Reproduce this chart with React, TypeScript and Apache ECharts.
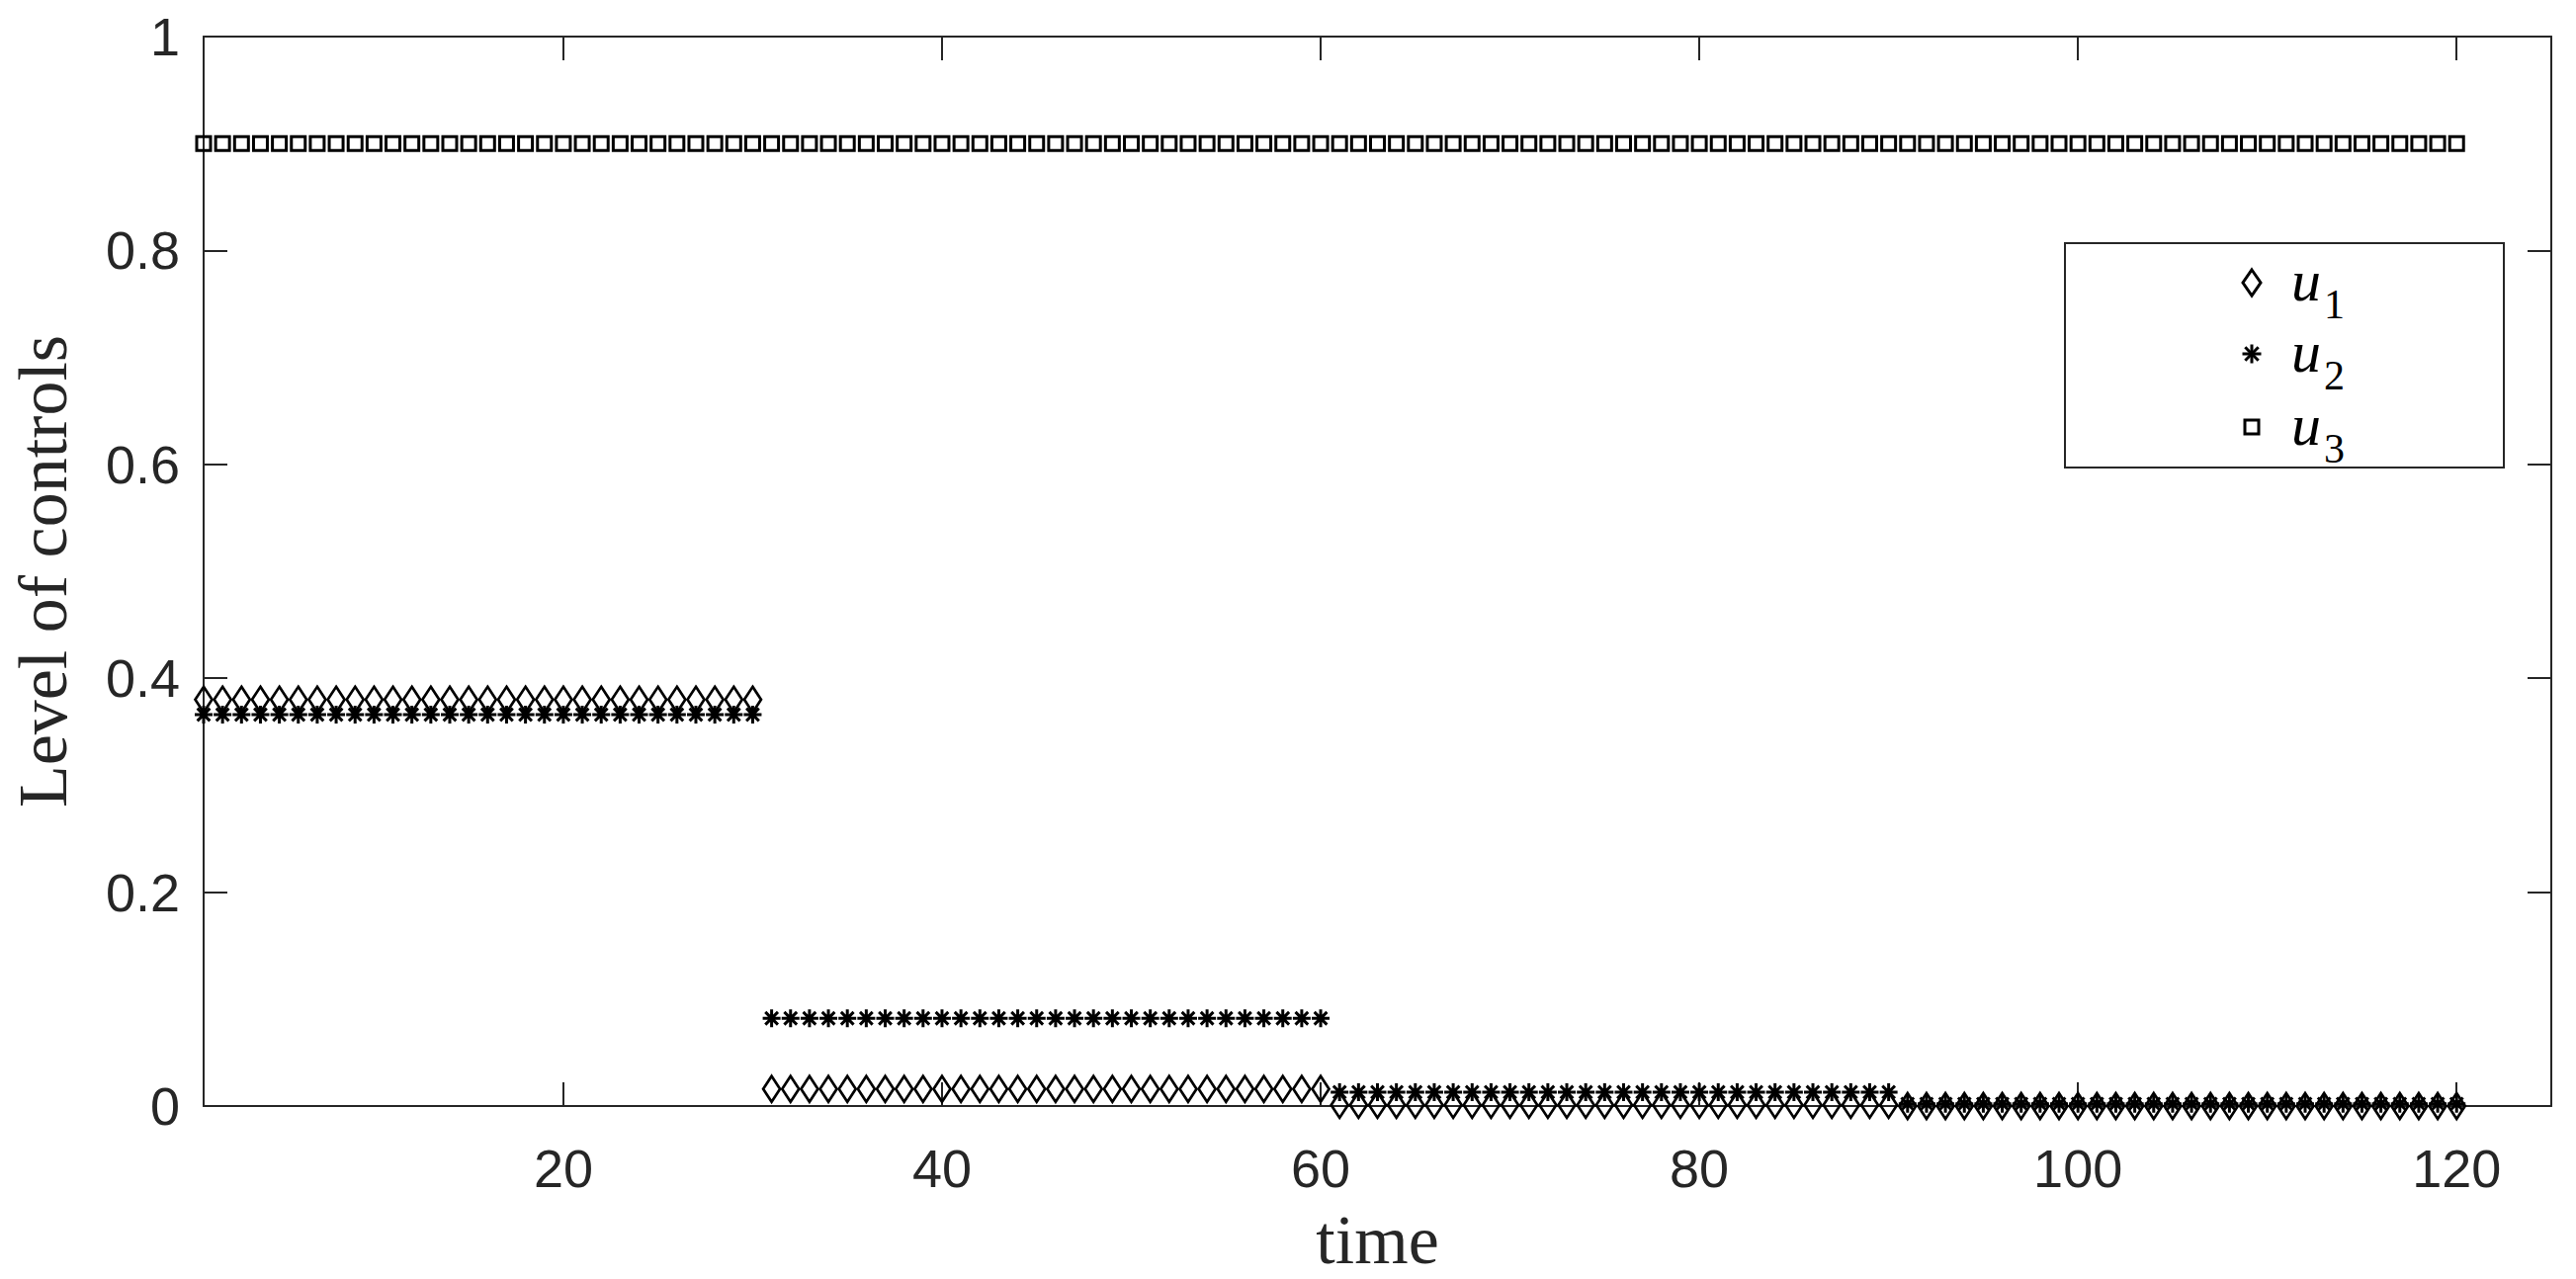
import React, { useEffect, useRef } from "react";
import * as echarts from "echarts";

// time steps (each marker sits on an integer time)
const time = [
  1, 2, 3, 4, 5, 6, 7, 8, 9, 10,
  11, 12, 13, 14, 15, 16, 17, 18, 19, 20,
  21, 22, 23, 24, 25, 26, 27, 28, 29, 30,
  31, 32, 33, 34, 35, 36, 37, 38, 39, 40,
  41, 42, 43, 44, 45, 46, 47, 48, 49, 50,
  51, 52, 53, 54, 55, 56, 57, 58, 59, 60,
  61, 62, 63, 64, 65, 66, 67, 68, 69, 70,
  71, 72, 73, 74, 75, 76, 77, 78, 79, 80,
  81, 82, 83, 84, 85, 86, 87, 88, 89, 90,
  91, 92, 93, 94, 95, 96, 97, 98, 99, 100,
  101, 102, 103, 104, 105, 106, 107, 108, 109, 110,
  111, 112, 113, 114, 115, 116, 117, 118, 119, 120,
];

const u1 = [
  0.38, 0.38, 0.38, 0.38, 0.38, 0.38, 0.38, 0.38, 0.38, 0.38,
  0.38, 0.38, 0.38, 0.38, 0.38, 0.38, 0.38, 0.38, 0.38, 0.38,
  0.38, 0.38, 0.38, 0.38, 0.38, 0.38, 0.38, 0.38, 0.38, 0.38,
  0.016, 0.016, 0.016, 0.016, 0.016, 0.016, 0.016, 0.016, 0.016, 0.016,
  0.016, 0.016, 0.016, 0.016, 0.016, 0.016, 0.016, 0.016, 0.016, 0.016,
  0.016, 0.016, 0.016, 0.016, 0.016, 0.016, 0.016, 0.016, 0.016, 0.016,
  0.001, 0.001, 0.001, 0.001, 0.001, 0.001, 0.001, 0.001, 0.001, 0.001,
  0.001, 0.001, 0.001, 0.001, 0.001, 0.001, 0.001, 0.001, 0.001, 0.001,
  0.001, 0.001, 0.001, 0.001, 0.001, 0.001, 0.001, 0.001, 0.001, 0.001,
  0, 0, 0, 0, 0, 0, 0, 0, 0, 0,
  0, 0, 0, 0, 0, 0, 0, 0, 0, 0,
  0, 0, 0, 0, 0, 0, 0, 0, 0, 0,
];

const u2 = [
  0.366, 0.366, 0.366, 0.366, 0.366, 0.366, 0.366, 0.366, 0.366, 0.366,
  0.366, 0.366, 0.366, 0.366, 0.366, 0.366, 0.366, 0.366, 0.366, 0.366,
  0.366, 0.366, 0.366, 0.366, 0.366, 0.366, 0.366, 0.366, 0.366, 0.366,
  0.082, 0.082, 0.082, 0.082, 0.082, 0.082, 0.082, 0.082, 0.082, 0.082,
  0.082, 0.082, 0.082, 0.082, 0.082, 0.082, 0.082, 0.082, 0.082, 0.082,
  0.082, 0.082, 0.082, 0.082, 0.082, 0.082, 0.082, 0.082, 0.082, 0.082,
  0.013, 0.013, 0.013, 0.013, 0.013, 0.013, 0.013, 0.013, 0.013, 0.013,
  0.013, 0.013, 0.013, 0.013, 0.013, 0.013, 0.013, 0.013, 0.013, 0.013,
  0.013, 0.013, 0.013, 0.013, 0.013, 0.013, 0.013, 0.013, 0.013, 0.013,
  0.002, 0.002, 0.002, 0.002, 0.002, 0.002, 0.002, 0.002, 0.002, 0.002,
  0.002, 0.002, 0.002, 0.002, 0.002, 0.002, 0.002, 0.002, 0.002, 0.002,
  0.002, 0.002, 0.002, 0.002, 0.002, 0.002, 0.002, 0.002, 0.002, 0.002,
];

const u3 = [
  0.9, 0.9, 0.9, 0.9, 0.9, 0.9, 0.9, 0.9, 0.9, 0.9,
  0.9, 0.9, 0.9, 0.9, 0.9, 0.9, 0.9, 0.9, 0.9, 0.9,
  0.9, 0.9, 0.9, 0.9, 0.9, 0.9, 0.9, 0.9, 0.9, 0.9,
  0.9, 0.9, 0.9, 0.9, 0.9, 0.9, 0.9, 0.9, 0.9, 0.9,
  0.9, 0.9, 0.9, 0.9, 0.9, 0.9, 0.9, 0.9, 0.9, 0.9,
  0.9, 0.9, 0.9, 0.9, 0.9, 0.9, 0.9, 0.9, 0.9, 0.9,
  0.9, 0.9, 0.9, 0.9, 0.9, 0.9, 0.9, 0.9, 0.9, 0.9,
  0.9, 0.9, 0.9, 0.9, 0.9, 0.9, 0.9, 0.9, 0.9, 0.9,
  0.9, 0.9, 0.9, 0.9, 0.9, 0.9, 0.9, 0.9, 0.9, 0.9,
  0.9, 0.9, 0.9, 0.9, 0.9, 0.9, 0.9, 0.9, 0.9, 0.9,
  0.9, 0.9, 0.9, 0.9, 0.9, 0.9, 0.9, 0.9, 0.9, 0.9,
  0.9, 0.9, 0.9, 0.9, 0.9, 0.9, 0.9, 0.9, 0.9, 0.9,
];

const xTicks = [20, 40, 60, 80, 100, 120];
const seriesNames = ["u1", "u2", "u3"];
const seriesSubs = ["1", "2", "3"];
const xName = "time";
const yName = "Level of controls";

const AXIS_COLOR = "#262626";
const ASTERISK =
  "path://M0,-10L0,10M-10,0L10,0M-7.07,-7.07L7.07,7.07M-7.07,7.07L7.07,-7.07";

export default function App() {
  const ref = useRef<HTMLDivElement>(null);

  useEffect(() => {
    if (!ref.current) return;
    const chart = echarts.init(ref.current, undefined, { renderer: "svg" });

    const markerStyle = (w: number) => ({
      color: "transparent",
      borderColor: "#000",
      borderWidth: w,
      opacity: 1,
    });

    const tickLabelStyle = {
      color: AXIS_COLOR,
      fontFamily: "Liberation Sans",
      fontSize: 54,
    };

    const xBase = {
      type: "value" as const,
      min: 1,
      max: 125,
      splitLine: { show: false },
      axisLine: { show: true, onZero: false, lineStyle: { color: AXIS_COLOR, width: 2 } },
      axisTick: {
        show: true,
        inside: true,
        length: 24,
        customValues: xTicks,
        lineStyle: { color: AXIS_COLOR, width: 2 },
      },
    };
    const yBase = {
      type: "value" as const,
      min: 0,
      max: 1,
      interval: 0.2,
      splitLine: { show: false },
      axisLine: { show: true, onZero: false, lineStyle: { color: AXIS_COLOR, width: 2 } },
      axisTick: {
        show: true,
        inside: true,
        length: 24,
        lineStyle: { color: AXIS_COLOR, width: 2 },
      },
    };

    // legend layout
    const LX = 2089, LY = 246, LW = 444, LH = 227;
    const mx = 2278;
    const rowY = [286, 358, 432];
    const textX = 2318;

    const legendGraphics: any[] = [
      {
        type: "rect",
        shape: { x: LX, y: LY, width: LW, height: LH },
        style: { fill: "#fff", stroke: AXIS_COLOR, lineWidth: 2 },
        z: 100,
      },
      {
        type: "polygon",
        shape: {
          points: [
            [mx, rowY[0] - 13],
            [mx + 9, rowY[0]],
            [mx, rowY[0] + 13],
            [mx - 9, rowY[0]],
          ],
        },
        style: { fill: "none", stroke: "#000", lineWidth: 3 },
        z: 101,
      },
      ...[
        [0, -9.5, 0, 9.5],
        [-9.5, 0, 9.5, 0],
        [-6.7, -6.7, 6.7, 6.7],
        [-6.7, 6.7, 6.7, -6.7],
      ].map((l) => ({
        type: "line",
        shape: { x1: mx + l[0], y1: rowY[1] + l[1], x2: mx + l[2], y2: rowY[1] + l[3] },
        style: { stroke: "#000", lineWidth: 3 },
        z: 101,
      })),
      {
        type: "rect",
        shape: { x: mx - 7, y: rowY[2] - 7, width: 14, height: 14 },
        style: { fill: "none", stroke: "#000", lineWidth: 3 },
        z: 101,
      },
    ];
    seriesNames.forEach((_, i) => {
      legendGraphics.push({
        type: "text",
        x: textX,
        y: rowY[i] - 2,
        style: {
          text: "u",
          fontFamily: "Liberation Serif",
          fontStyle: "italic",
          fontSize: 60,
          fill: "#000",
          verticalAlign: "middle",
          align: "left",
        },
        z: 101,
      });
      legendGraphics.push({
        type: "text",
        x: textX + 33,
        y: rowY[i] + 22,
        style: {
          text: seriesSubs[i],
          fontFamily: "Liberation Serif",
          fontSize: 42,
          fill: "#000",
          verticalAlign: "middle",
          align: "left",
        },
        z: 101,
      });
    });

    chart.setOption({
      animation: false,
      backgroundColor: "#fff",
      grid: { left: 204, top: 37, width: 2377, height: 1082 },
      xAxis: [
        {
          ...xBase,
          position: "bottom",
          name: xName,
          nameLocation: "middle",
          nameGap: 100,
          nameTextStyle: {
            color: AXIS_COLOR,
            fontFamily: "Liberation Serif",
            fontSize: 70,
          },
          axisLabel: {
            ...tickLabelStyle,
            margin: 36,
            customValues: xTicks,
          },
        },
        {
          ...xBase,
          position: "top",
          axisLabel: { show: false },
        },
      ],
      yAxis: [
        {
          ...yBase,
          position: "left",
          name: yName,
          nameLocation: "middle",
          nameGap: 128,
          nameRotate: 90,
          nameTextStyle: {
            color: AXIS_COLOR,
            fontFamily: "Liberation Serif",
            fontSize: 70,
          },
          axisLabel: { ...tickLabelStyle, margin: 24 },
        },
        {
          ...yBase,
          position: "right",
          axisLabel: { show: false },
        },
      ],
      series: [
        {
          name: seriesNames[0],
          type: "scatter",
          xAxisIndex: 0,
          yAxisIndex: 0,
          clip: false,
          symbol: "diamond",
          symbolSize: [17, 26],
          itemStyle: markerStyle(2.8),
          data: time.map((t, i) => [t, u1[i]]),
        },
        {
          name: seriesNames[1],
          type: "scatter",
          xAxisIndex: 0,
          yAxisIndex: 0,
          clip: false,
          symbol: ASTERISK,
          symbolSize: 18,
          itemStyle: markerStyle(3),
          data: time.map((t, i) => [t, u2[i]]),
        },
        {
          name: seriesNames[2],
          type: "scatter",
          xAxisIndex: 0,
          yAxisIndex: 0,
          clip: false,
          symbol: "rect",
          symbolSize: 14,
          itemStyle: markerStyle(3),
          data: time.map((t, i) => [t, u3[i]]),
        },
      ],
      graphic: legendGraphics,
    });

    return () => chart.dispose();
  }, []);

  return (
    <div
      ref={ref}
      style={{ position: "absolute", left: 0, top: 0, width: 2606, height: 1294, background: "#fff" }}
    />
  );
}
